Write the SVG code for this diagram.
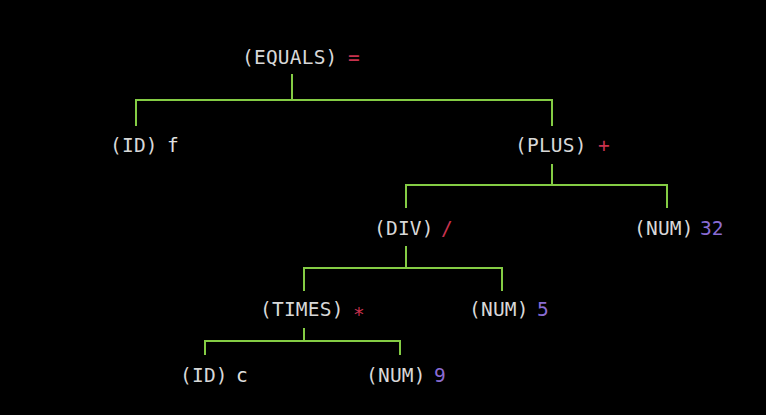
<svg xmlns="http://www.w3.org/2000/svg" width="766" height="415" viewBox="0 0 766 415">
<style>
text{font-family:"DejaVu Sans Mono","Liberation Mono",monospace;font-size:19.5px}
.l{fill:#d8d8d8;letter-spacing:0.2px}
.op{fill:#c8324e}
.n{fill:#8a6cd4}
.v{fill:#e2e2e2}
.e{fill:none;stroke:#84cc44;stroke-width:2}
</style>
<rect width="766" height="415" fill="#000"/>
<g id="connectors">
<path class="e" d="M292 74V100M136 126V100H552V126"/>
<path class="e" d="M552 164V185M406 208V185H667V208"/>
<path class="e" d="M406 246V268M304 291V268H502V291"/>
<path class="e" d="M304 328V341M205 355V341H400V355"/>
</g>
<g id="n-equals"><text class="l" x="242" y="64">(EQUALS)</text><text class="op" x="348" y="64">=</text></g>
<g id="n-id-f"><text class="l" x="110" y="152">(ID)</text><text class="v" x="167" y="152">f</text></g>
<g id="n-plus"><text class="l" x="515" y="152">(PLUS)</text><text class="op" x="598" y="152">+</text></g>
<g id="n-div"><text class="l" x="374" y="235">(DIV)</text><text class="op" x="441" y="235">/</text></g>
<g id="n-num-32"><text class="l" x="634" y="235">(NUM)</text><text class="n" x="700" y="235">32</text></g>
<g id="n-times"><text class="l" x="260" y="316">(TIMES)</text><text class="op" x="353" y="321">*</text></g>
<g id="n-num-5"><text class="l" x="469" y="316">(NUM)</text><text class="n" x="537" y="316">5</text></g>
<g id="n-id-c"><text class="l" x="180" y="382">(ID)</text><text class="v" x="236" y="382">c</text></g>
<g id="n-num-9"><text class="l" x="366" y="382">(NUM)</text><text class="n" x="434" y="382">9</text></g>
</svg>
